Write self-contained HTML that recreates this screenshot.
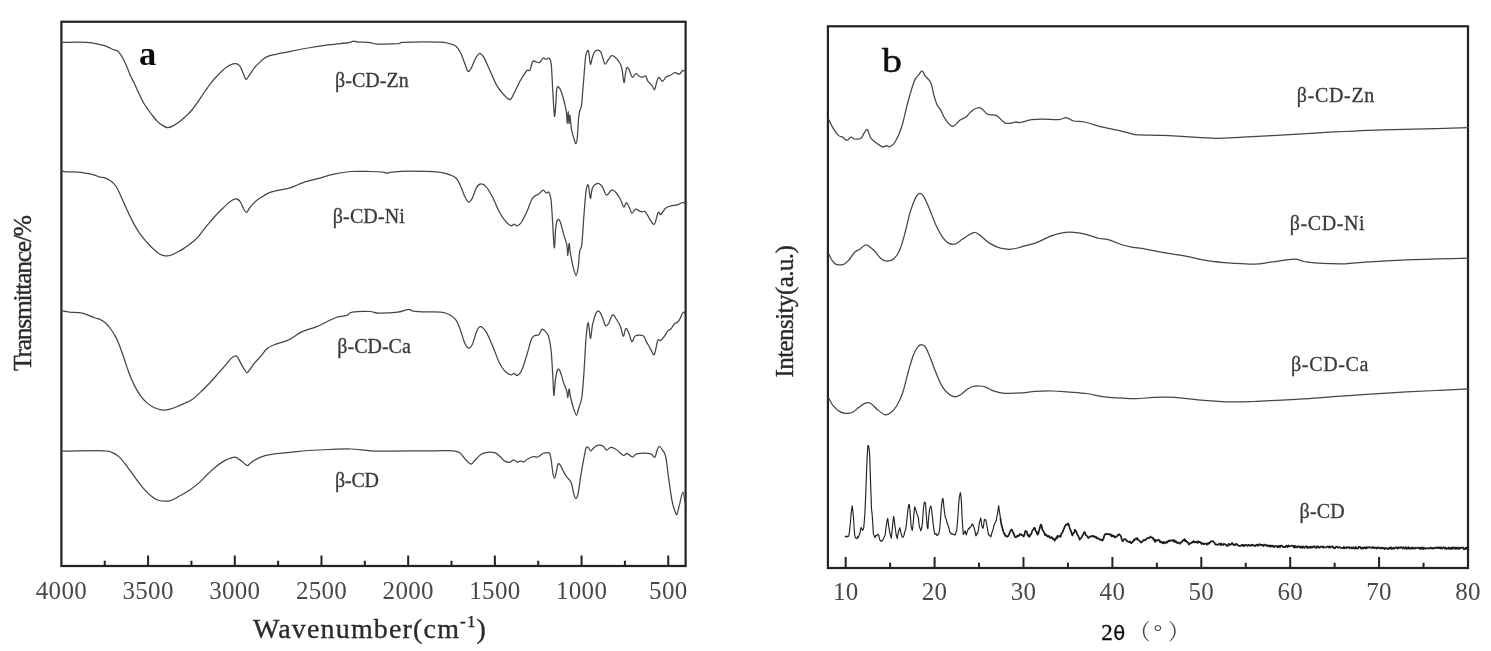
<!DOCTYPE html>
<html lang="en"><head><meta charset="utf-8"><title>FTIR and XRD</title>
<style>html,body{margin:0;padding:0;background:#fff}body{width:1491px;height:651px;overflow:hidden}svg{display:block}text{font-family:"Liberation Serif","Noto Serif CJK SC",serif;fill:#3a3a3a}.c{fill:none;stroke:#444;stroke-width:1.25;stroke-linejoin:round;stroke-linecap:round}.ax{fill:none;stroke:#222;stroke-width:2.2}.tk{stroke:#222;stroke-width:2}.tl{font-size:25px;text-anchor:middle;fill:#4a4a4a;letter-spacing:.3px}.lb{font-size:20px;stroke:#3a3a3a;stroke-width:.3}.b{fill:#2a2a2a;stroke:#2a2a2a;stroke-width:.35}</style></head><body>
<svg width="1491" height="651" viewBox="0 0 1491 651">
<rect width="1491" height="651" fill="#fff"/>
<defs><filter id="soft" filterUnits="userSpaceOnUse" x="0" y="0" width="1491" height="651"><feGaussianBlur stdDeviation="0.45"/></filter></defs><g filter="url(#soft)">
<rect class="ax" x="61.40" y="21.75" width="624.20" height="544.25"/>
<path class="tk" d="M104.75 566.00 v-5.3M148.09 566.00 v-10.5M191.44 566.00 v-5.3M234.79 566.00 v-10.5M278.14 566.00 v-5.3M321.48 566.00 v-10.5M364.83 566.00 v-5.3M408.18 566.00 v-10.5M451.52 566.00 v-5.3M494.87 566.00 v-10.5M538.22 566.00 v-5.3M581.57 566.00 v-10.5M624.91 566.00 v-5.3M668.26 566.00 v-10.5"/>
<text class="tl" x="61.4" y="598.6">4000</text>
<text class="tl" x="148.1" y="598.6">3500</text>
<text class="tl" x="234.8" y="598.6">3000</text>
<text class="tl" x="321.5" y="598.6">2500</text>
<text class="tl" x="408.2" y="598.6">2000</text>
<text class="tl" x="494.9" y="598.6">1500</text>
<text class="tl" x="581.6" y="598.6">1000</text>
<text class="tl" x="668.3" y="598.6">500</text>
<text class="b" x="252.9" y="637.5" font-size="28" textLength="233">Wavenumber(cm<tspan font-size="17" dy="-10.5">-1</tspan><tspan dy="10.5">)</tspan></text>
<text class="b" transform="translate(31 371) rotate(-90)" font-size="25.5" textLength="156">Transmittance/%</text>
<text x="138.9" y="65.3" font-size="34.5" font-weight="bold" style="fill:#111">a</text>
<path class="c" d="M61.8 42.4C65.9 42.4 80.2 42.0 86.6 42.4C92.9 42.8 96.7 44.0 100.0 44.7C103.3 45.3 104.3 45.5 106.5 46.3C108.6 47.1 111.0 48.7 112.9 49.5C114.8 50.3 116.4 50.2 117.7 51.1C119.1 52.1 119.9 53.5 121.0 55.2C122.0 56.8 123.1 58.7 124.2 60.8C125.3 63.0 126.3 65.5 127.4 68.1C128.5 70.6 129.5 73.6 130.6 76.1C131.8 78.7 133.0 80.6 134.4 83.4C135.7 86.2 137.2 89.8 138.7 93.1C140.2 96.3 141.9 99.9 143.5 102.7C145.2 105.6 146.8 107.7 148.4 110.0C150.0 112.3 151.6 114.4 153.2 116.5C154.8 118.5 156.5 120.6 158.1 122.1C159.7 123.6 161.3 124.7 162.9 125.6C164.5 126.6 166.1 127.7 167.7 127.7C169.4 127.8 170.7 127.1 172.6 126.1C174.5 125.2 176.9 123.7 179.0 122.1C181.2 120.5 183.3 118.5 185.5 116.5C187.6 114.4 189.8 112.6 191.9 110.0C194.1 107.4 196.2 104.2 198.4 101.1C200.5 98.0 202.7 94.5 204.8 91.5C207.0 88.4 209.1 85.3 211.3 82.6C213.4 79.9 215.6 77.6 217.7 75.3C219.9 73.0 222.0 70.6 224.2 68.9C226.3 67.1 228.8 65.7 230.6 64.8C232.5 64.0 234.0 63.6 235.5 63.7C237.0 63.8 238.3 64.2 239.5 65.6C240.7 67.0 241.7 69.8 242.7 72.1C243.8 74.4 244.9 78.8 246.0 79.4C247.0 79.9 247.7 77.3 249.2 75.3C250.7 73.3 253.0 69.5 254.8 67.3C256.6 65.1 258.7 63.4 260.0 62.1C261.3 60.8 261.7 60.3 262.9 59.4C264.1 58.4 265.1 57.4 267.2 56.6C269.4 55.7 272.6 55.1 275.8 54.4C279.0 53.7 281.2 53.3 286.6 52.3C291.9 51.2 300.9 49.2 308.1 48.0C315.2 46.7 322.8 45.6 329.6 44.7C336.4 43.8 345.0 43.2 348.9 42.6C352.9 42.0 351.8 41.2 353.2 41.1C354.7 41.0 354.7 41.7 357.5 41.9C360.3 42.2 366.8 42.2 370.0 42.6C373.2 42.9 371.8 43.9 376.5 44.1C381.1 44.3 393.7 43.9 398.0 43.7C402.3 43.4 398.0 42.6 402.3 42.4C409.1 42.1 430.9 41.9 438.8 42.2C446.7 42.4 446.7 43.0 449.6 43.7C452.4 44.3 454.2 44.8 456.0 46.2C457.8 47.7 458.9 49.5 460.3 52.3C461.8 55.1 463.4 59.9 464.6 63.0C465.9 66.2 466.8 70.3 467.8 71.2C468.9 72.1 469.8 70.5 471.1 68.4C472.3 66.3 473.9 61.2 475.4 58.7C476.8 56.2 478.2 53.5 479.7 53.3C481.1 53.2 482.2 54.6 484.0 57.6C485.8 60.7 488.3 67.0 490.4 71.6C492.6 76.3 494.7 81.8 496.9 85.6C499.0 89.4 501.2 91.9 503.3 94.2C505.5 96.5 508.0 99.7 509.8 99.6C511.6 99.4 512.3 96.3 514.1 93.1C515.9 89.9 518.4 84.0 520.5 80.2C522.7 76.5 525.4 72.2 527.0 70.5C528.6 68.9 529.1 71.8 530.0 70.3C530.9 68.8 531.6 62.9 532.7 61.5C533.7 60.1 535.0 61.7 536.2 61.9C537.4 62.0 538.5 63.0 539.7 62.4C540.9 61.7 542.2 58.5 543.3 58.0C544.3 57.5 544.9 59.3 545.9 59.4C546.9 59.4 548.2 57.5 549.1 58.3C550.0 59.1 550.6 59.2 551.2 64.2C551.8 69.1 552.2 80.5 552.6 88.0C553.1 95.5 553.5 104.5 553.9 109.2C554.2 113.9 554.4 117.4 554.7 116.3C555.1 115.1 555.6 106.8 556.0 102.1C556.3 97.4 556.3 90.4 556.9 88.0C557.4 85.6 558.3 86.8 559.2 87.7C560.0 88.5 560.9 90.7 561.8 93.3C562.7 95.9 563.7 99.9 564.5 103.0C565.2 106.1 565.9 108.5 566.4 111.9C566.9 115.2 567.0 123.4 567.3 123.3C567.6 123.3 567.9 111.3 568.2 111.3C568.5 111.3 568.8 122.7 569.0 123.3C569.3 124.0 569.5 114.4 569.9 115.4C570.3 116.4 570.8 125.5 571.5 129.5C572.2 133.5 573.4 136.9 574.2 139.2C574.9 141.6 575.4 144.0 575.9 143.7C576.5 143.4 576.9 141.7 577.3 137.5C577.8 133.2 578.2 122.5 578.6 118.0C579.0 113.6 579.3 113.2 579.8 111.0C580.3 108.8 581.1 108.6 581.6 104.8C582.1 101.0 582.5 93.7 583.0 88.0C583.5 82.3 584.0 75.6 584.4 70.3C584.9 65.0 585.2 59.4 585.7 56.2C586.2 53.0 586.9 51.6 587.4 50.9C587.9 50.2 588.2 49.6 588.7 51.8C589.2 54.0 589.8 63.1 590.4 64.2C591.0 65.2 591.5 60.0 592.2 58.0C592.9 55.9 593.5 53.1 594.5 51.8C595.5 50.5 597.0 50.0 598.0 50.0C599.1 50.0 599.9 50.5 600.7 51.8C601.5 53.1 602.1 55.9 602.8 58.0C603.5 60.0 604.3 63.7 605.1 64.2C605.9 64.6 606.7 62.0 607.7 60.6C608.8 59.2 610.2 56.6 611.3 55.8C612.3 55.1 612.9 55.6 613.9 56.2C615.0 56.8 616.4 58.4 617.5 59.7C618.5 61.1 619.7 62.4 620.5 64.2C621.3 65.9 621.6 67.2 622.2 70.3C622.8 73.4 623.5 82.1 624.0 82.7C624.5 83.3 624.9 76.4 625.4 73.9C625.9 71.4 626.3 68.6 626.8 67.7C627.3 66.8 628.0 67.7 628.6 68.6C629.2 69.5 629.7 71.5 630.4 73.0C631.0 74.5 631.5 77.3 632.5 77.4C633.4 77.5 634.8 73.7 636.0 73.5C637.2 73.4 638.4 75.9 639.5 76.5C640.7 77.1 642.0 77.1 643.1 77.0C644.1 77.0 644.9 75.3 645.7 76.0C646.5 76.7 647.0 79.7 648.0 81.3C649.1 82.9 650.8 83.9 651.9 85.4C653.0 86.8 653.8 90.1 654.6 89.8C655.3 89.5 655.6 85.6 656.3 83.6C657.0 81.5 657.6 77.8 658.6 77.4C659.7 77.0 661.3 81.3 662.5 81.3C663.7 81.2 664.6 78.1 666.0 77.0C667.5 76.0 669.9 75.5 671.3 74.8C672.8 74.0 673.6 72.5 674.9 72.5C676.2 72.4 678.0 74.6 679.3 74.2C680.6 73.9 681.8 70.6 682.8 70.3C683.9 70.0 685.0 72.1 685.5 72.5"/>
<path class="c" d="M61.8 170.9C62.5 171.0 63.4 171.7 66.1 171.9C68.8 172.2 73.5 171.7 78.0 172.2C82.4 172.6 89.3 173.9 93.0 174.7C96.7 175.6 98.0 176.6 100.0 177.1C102.0 177.6 103.2 177.4 104.8 177.9C106.5 178.4 108.1 179.2 109.7 180.3C111.3 181.4 113.2 182.9 114.5 184.4C115.9 185.8 116.7 187.2 117.7 189.2C118.8 191.2 119.8 193.8 121.0 196.5C122.2 199.1 123.7 202.4 125.0 205.3C126.3 208.3 127.6 211.1 129.0 214.2C130.5 217.3 132.3 220.9 133.9 223.9C135.5 226.8 137.1 229.5 138.7 231.9C140.3 234.4 141.9 236.4 143.5 238.4C145.2 240.4 146.8 242.3 148.4 244.0C150.0 245.8 151.6 247.4 153.2 248.9C154.8 250.3 156.5 251.8 158.1 252.9C159.7 254.0 161.3 254.8 162.9 255.3C164.5 255.8 166.1 255.9 167.7 255.8C169.4 255.7 170.7 255.3 172.6 254.5C174.5 253.8 176.9 252.5 179.0 251.3C181.2 250.1 183.3 248.7 185.5 247.3C187.6 245.8 190.1 243.9 191.9 242.4C193.8 240.9 194.9 240.4 196.8 238.4C198.7 236.4 201.1 233.0 203.2 230.3C205.4 227.6 207.5 224.8 209.7 222.3C211.8 219.7 214.0 217.3 216.1 215.0C218.3 212.7 220.4 210.6 222.6 208.5C224.7 206.5 227.2 204.0 229.0 202.4C230.9 200.9 232.5 199.9 233.9 199.4C235.2 198.8 236.0 198.8 237.1 199.2C238.2 199.6 239.2 200.2 240.3 201.8C241.4 203.3 242.5 206.7 243.5 208.5C244.6 210.3 245.5 212.6 246.5 212.6C247.4 212.6 247.9 210.2 249.2 208.5C250.5 206.9 252.2 204.7 254.0 202.9C255.8 201.2 257.4 199.8 260.0 198.1C262.6 196.3 266.4 193.9 269.4 192.6C272.3 191.3 274.4 191.3 278.0 190.4C281.5 189.6 286.6 189.0 290.9 187.6C295.2 186.3 299.1 183.8 303.8 182.3C308.4 180.7 313.8 179.7 318.8 178.4C323.8 177.0 328.5 175.2 333.9 174.1C339.2 172.9 345.1 171.9 351.1 171.5C357.1 171.1 364.7 171.4 370.0 171.5C375.3 171.6 380.0 171.9 382.9 172.2C385.8 172.4 385.8 173.2 387.2 173.2C388.6 173.2 387.9 172.5 391.5 172.2C395.1 171.8 400.8 171.1 408.7 171.1C416.6 171.1 432.0 171.5 438.8 172.2C445.6 172.8 446.7 173.8 449.6 174.7C452.4 175.7 454.2 176.2 456.0 178.0C457.8 179.7 458.9 182.4 460.3 185.5C461.8 188.5 463.3 193.5 464.6 196.2C466.0 199.0 467.2 201.7 468.5 202.0C469.7 202.4 470.8 200.8 472.2 198.4C473.5 196.0 475.0 190.1 476.5 187.6C477.9 185.2 479.1 183.9 480.8 183.8C482.4 183.6 484.2 184.3 486.1 186.6C488.1 188.8 490.4 193.2 492.6 197.3C494.7 201.4 497.1 207.5 499.0 211.3C501.0 215.1 502.4 217.5 504.4 219.9C506.4 222.3 509.2 225.0 510.9 225.7C512.5 226.4 513.0 224.2 514.1 224.2C515.2 224.2 516.1 226.3 517.3 225.9C518.6 225.6 520.0 224.5 521.6 222.0C523.2 219.6 525.4 214.9 527.0 211.3C528.6 207.7 530.0 203.0 531.3 200.5C532.5 198.0 533.3 197.3 534.5 196.2C535.8 195.2 537.4 195.1 538.8 194.1C540.3 193.1 541.9 190.4 543.1 190.2C544.4 190.0 545.4 192.7 546.3 193.0C547.3 193.4 548.1 191.1 548.9 192.4C549.7 193.6 550.4 195.1 551.1 200.5C551.7 206.0 552.3 217.4 552.8 225.3C553.3 233.2 553.8 247.1 554.3 247.8C554.8 248.6 555.1 234.2 555.6 229.6C556.1 224.9 556.7 221.1 557.5 219.9C558.3 218.6 559.3 219.7 560.3 222.0C561.3 224.4 562.5 230.1 563.5 233.9C564.6 237.6 566.1 241.0 566.8 244.6C567.5 248.2 567.5 255.6 567.8 255.4C568.2 255.2 568.7 243.9 569.1 243.5C569.6 243.2 569.7 249.3 570.4 253.2C571.1 257.2 572.3 263.5 573.2 267.2C574.2 270.9 575.2 275.4 576.0 275.4C576.8 275.4 577.6 271.3 578.2 267.2C578.8 263.2 579.1 254.8 579.7 251.1C580.3 247.3 581.1 250.7 581.8 244.6C582.5 238.5 583.3 223.5 584.0 214.5C584.7 205.6 585.4 195.8 586.1 190.9C586.8 185.9 587.6 183.8 588.3 185.1C589.0 186.3 589.7 198.0 590.4 198.4C591.1 198.8 591.3 190.1 592.6 187.6C593.8 185.1 596.3 183.5 598.0 183.3C599.6 183.2 600.8 184.6 602.3 186.6C603.7 188.5 604.9 194.6 606.6 195.2C608.2 195.7 610.3 190.1 611.9 189.8C613.5 189.4 614.8 191.4 616.2 193.0C617.7 194.6 619.3 197.1 620.5 199.5C621.8 201.8 622.8 206.5 623.8 207.0C624.7 207.5 625.4 202.7 626.3 202.7C627.2 202.7 628.2 205.3 629.1 207.0C630.1 208.7 630.9 212.7 631.9 213.0C633.0 213.4 634.1 209.4 635.6 209.1C637.1 208.9 639.4 211.3 641.0 211.7C642.6 212.2 643.8 210.5 645.3 211.7C646.7 212.9 648.1 216.7 649.6 218.8C651.1 220.9 652.9 225.3 654.3 224.2C655.7 223.1 657.1 214.0 658.2 212.4C659.2 210.8 659.5 215.2 660.8 214.5C662.0 213.8 664.0 209.5 665.7 208.1C667.4 206.6 669.1 206.5 671.1 205.9C673.0 205.4 675.6 205.4 677.5 204.8C679.5 204.2 681.6 202.4 682.9 202.3C684.2 202.1 684.7 203.5 685.1 203.8"/>
<path class="c" d="M61.8 310.9C63.1 311.1 65.9 311.8 69.4 312.2C72.8 312.5 78.0 312.3 82.3 313.2C86.6 314.2 92.2 316.9 95.2 318.0C98.1 319.0 98.3 318.5 100.0 319.4C101.7 320.2 103.7 321.4 105.5 323.0C107.4 324.7 109.4 327.2 111.1 329.5C112.7 331.8 114.3 334.3 115.7 336.9C117.1 339.5 118.1 342.1 119.4 345.2C120.6 348.2 121.8 351.8 123.0 355.3C124.3 358.8 125.5 362.8 126.7 366.4C128.0 369.9 129.0 373.1 130.4 376.5C131.8 379.9 133.3 383.4 135.0 386.6C136.7 389.9 138.6 393.1 140.6 395.9C142.5 398.6 144.9 401.0 147.0 402.9C149.2 404.8 151.5 406.2 153.5 407.3C155.5 408.4 157.1 408.8 159.0 409.3C160.8 409.8 162.7 410.1 164.5 410.0C166.4 410.0 167.9 409.7 170.0 409.1C172.2 408.5 175.0 407.5 177.4 406.5C179.9 405.6 182.3 404.4 184.8 403.2C187.3 402.1 189.7 401.2 192.2 399.5C194.6 397.8 197.1 395.4 199.5 393.1C202.0 390.8 205.1 387.6 206.9 385.7C208.8 383.9 208.8 384.0 210.6 382.0C212.4 380.0 215.5 376.5 218.0 373.7C220.4 371.0 223.2 368.0 225.3 365.4C227.5 362.9 229.3 360.2 230.9 358.6C232.4 357.1 233.5 356.5 234.6 356.2C235.6 355.9 236.3 355.5 237.3 356.8C238.4 358.0 239.8 361.4 241.0 363.6C242.2 365.8 243.7 368.5 244.7 370.0C245.7 371.6 246.3 372.9 247.1 372.8C247.9 372.7 248.4 371.4 249.7 369.7C251.0 368.0 253.1 364.8 254.8 362.7C256.6 360.6 257.9 359.5 260.0 357.1C262.1 354.8 264.6 350.7 267.2 348.5C269.8 346.3 272.2 345.6 275.8 344.2C279.4 342.8 284.4 341.9 288.7 339.9C293.0 337.8 297.0 334.2 301.6 331.9C306.3 329.7 310.9 329.0 316.7 326.6C322.4 324.2 331.0 319.4 336.0 317.5C341.0 315.7 344.1 316.3 346.8 315.4C349.5 314.5 348.3 312.8 352.2 312.2C356.0 311.5 365.6 311.3 370.0 311.5C374.4 311.7 373.9 313.1 378.6 313.2C383.3 313.3 392.9 312.8 398.0 312.2C403.0 311.5 406.2 309.5 408.7 309.4C411.2 309.2 410.1 310.6 413.0 311.1C415.9 311.5 421.3 311.8 425.9 311.9C430.6 312.1 437.0 311.7 441.0 312.2C444.9 312.6 447.1 313.4 449.6 314.7C452.1 316.1 454.2 317.6 456.0 320.1C457.8 322.6 458.9 326.0 460.3 329.8C461.8 333.5 463.3 339.6 464.6 342.7C466.0 345.7 467.2 347.7 468.5 348.1C469.7 348.4 470.8 347.5 472.2 344.8C473.5 342.2 475.1 335.0 476.5 331.9C477.8 328.9 478.7 326.6 480.3 326.6C481.9 326.6 484.1 328.7 486.1 331.9C488.2 335.2 490.4 340.9 492.6 345.9C494.7 350.9 497.1 357.9 499.0 362.0C501.0 366.2 502.4 368.5 504.4 370.6C506.4 372.8 509.2 374.5 510.9 374.9C512.5 375.4 513.0 373.3 514.1 373.4C515.2 373.5 516.1 376.1 517.3 375.6C518.6 375.1 520.0 374.2 521.6 370.6C523.2 367.1 525.4 359.7 527.0 354.5C528.6 349.3 530.0 342.6 531.3 339.5C532.5 336.3 533.3 336.4 534.5 335.6C535.8 334.8 537.6 335.8 538.8 334.7C540.1 333.7 541.0 329.7 542.0 329.1C543.1 328.6 544.2 330.1 545.3 331.3C546.3 332.5 547.5 333.1 548.5 336.2C549.5 339.4 550.4 343.6 551.1 350.2C551.8 356.8 552.3 368.5 552.8 376.0C553.3 383.5 553.4 394.7 553.9 395.4C554.3 396.1 554.8 384.6 555.4 380.3C556.0 376.0 556.7 371.0 557.5 369.6C558.4 368.1 559.3 369.6 560.3 371.7C561.3 373.9 562.5 379.2 563.5 382.5C564.6 385.7 566.1 388.6 566.8 391.1C567.5 393.6 567.5 397.9 567.8 397.5C568.2 397.2 568.7 389.1 569.1 388.9C569.6 388.7 569.7 393.4 570.4 396.5C571.1 399.5 572.2 404.1 573.2 407.2C574.2 410.4 575.5 415.4 576.5 415.4C577.4 415.4 578.1 410.2 579.0 407.2C579.9 404.2 581.0 403.4 581.8 397.5C582.7 391.6 583.3 381.8 584.0 371.7C584.7 361.7 585.4 345.5 586.1 337.3C586.8 329.1 587.6 322.5 588.3 322.7C589.0 322.9 589.7 338.1 590.4 338.4C591.1 338.7 591.7 328.5 592.6 324.4C593.5 320.3 594.8 315.9 595.8 313.7C596.8 311.4 597.6 310.5 598.6 310.9C599.6 311.2 600.7 313.4 601.8 315.8C603.0 318.2 604.3 324.2 605.5 325.5C606.6 326.7 607.5 325.1 608.7 323.3C609.9 321.5 611.3 315.4 612.6 314.7C613.8 314.0 614.9 317.1 616.2 319.0C617.6 321.0 619.4 323.7 620.5 326.6C621.7 329.4 622.4 335.9 623.3 336.2C624.2 336.5 624.9 328.6 625.9 328.3C626.9 327.9 628.1 331.9 629.1 334.1C630.1 336.3 630.9 341.3 631.9 341.6C633.0 341.9 633.7 336.8 635.6 335.8C637.5 334.8 641.3 334.8 643.1 335.8C644.9 336.8 645.1 339.4 646.3 341.6C647.6 343.8 649.3 347.0 650.6 349.1C652.0 351.3 653.1 355.9 654.3 354.5C655.5 353.1 656.7 342.9 657.7 340.5C658.8 338.2 659.5 341.4 660.8 340.5C662.0 339.6 663.9 336.8 665.1 335.2C666.2 333.5 666.8 331.9 667.8 330.9C668.9 329.8 670.0 329.9 671.1 328.7C672.2 327.6 673.0 325.2 674.3 324.0C675.6 322.7 677.2 323.1 678.6 321.2C680.0 319.3 681.8 313.8 682.9 312.6C684.0 311.3 684.7 313.5 685.1 313.7"/>
<path class="c" d="M61.8 451.2C68.8 451.1 95.3 450.5 103.8 450.8C112.2 451.0 109.9 451.7 112.4 452.7C114.9 453.7 116.7 454.7 118.8 456.6C121.0 458.5 122.8 460.9 125.3 464.1C127.8 467.3 131.0 472.0 133.9 475.9C136.7 479.8 139.6 484.0 142.5 487.3C145.3 490.6 148.6 493.8 151.1 495.9C153.6 498.0 155.4 499.1 157.5 500.0C159.7 500.9 161.8 501.0 164.0 501.1C166.1 501.2 167.9 501.4 170.4 500.6C172.9 499.9 175.8 498.1 179.0 496.3C182.3 494.6 186.6 492.0 189.8 489.9C193.0 487.7 195.5 485.9 198.4 483.4C201.3 480.9 204.1 477.6 207.0 474.8C209.9 472.1 212.7 469.2 215.6 466.9C218.5 464.6 221.7 462.3 224.2 460.9C226.7 459.4 228.9 458.7 230.6 458.1C232.4 457.5 233.5 457.0 234.9 457.2C236.4 457.4 237.6 458.3 239.2 459.4C240.9 460.4 243.2 462.6 244.6 463.7C246.1 464.7 246.8 465.8 247.8 465.6C248.9 465.4 249.6 463.4 251.1 462.4C252.5 461.3 254.1 460.3 256.5 459.1C258.8 458.0 262.2 456.6 265.1 455.7C267.9 454.8 269.4 454.6 273.7 454.0C278.0 453.4 285.1 452.8 290.9 452.3C296.6 451.7 301.6 451.0 308.1 450.5C314.5 450.1 322.4 449.7 329.6 449.5C336.7 449.2 344.3 448.8 351.1 449.0C357.8 449.2 363.3 450.4 370.0 450.8C376.7 451.1 380.8 451.0 391.5 451.0C402.3 451.0 424.1 450.8 434.5 450.8C444.9 450.7 449.6 450.3 453.9 450.8C458.2 451.2 458.4 451.8 460.3 453.3C462.3 454.8 463.9 458.0 465.7 459.8C467.5 461.6 469.5 464.1 471.1 464.1C472.7 464.1 473.8 461.4 475.4 459.8C477.0 458.2 478.8 455.7 480.8 454.4C482.7 453.2 484.9 452.5 487.2 452.3C489.5 452.0 492.6 452.0 494.7 452.7C496.9 453.4 498.5 455.2 500.1 456.6C501.7 457.9 502.8 459.9 504.4 460.9C506.0 461.8 508.2 462.5 509.8 462.4C511.3 462.2 512.4 459.8 513.7 459.8C514.9 459.8 516.2 462.2 517.3 462.4C518.5 462.5 519.5 460.9 520.5 460.9C521.6 460.8 522.5 462.3 523.8 461.9C525.0 461.6 526.5 459.6 528.1 458.7C529.7 457.8 531.8 456.8 533.4 456.6C535.1 456.3 536.3 457.4 537.7 457.0C539.2 456.6 540.8 454.7 542.0 454.0C543.3 453.3 544.0 453.0 545.3 452.9C546.5 452.8 548.6 452.0 549.6 453.3C550.6 454.7 550.8 457.6 551.3 460.9C551.8 464.1 552.3 469.8 552.8 472.7C553.3 475.6 553.9 478.1 554.5 478.1C555.1 478.1 555.7 475.0 556.2 472.7C556.8 470.4 557.3 465.3 558.0 464.1C558.6 462.8 559.4 463.9 560.3 465.2C561.3 466.4 562.5 469.6 563.5 471.6C564.6 473.6 565.5 475.2 566.8 477.0C568.0 478.8 569.9 479.5 571.1 482.4C572.3 485.2 573.0 491.5 573.9 494.2C574.7 496.9 575.3 498.7 576.0 498.5C576.7 498.3 577.4 496.9 578.2 493.1C579.0 489.4 579.8 481.8 580.8 475.9C581.7 470.0 583.1 462.3 584.0 457.6C584.9 453.0 585.4 449.6 586.1 448.0C586.8 446.3 587.5 447.1 588.3 447.5C589.1 448.0 589.8 450.9 590.9 450.8C591.9 450.6 593.4 447.8 594.7 446.9C596.1 445.9 597.6 445.3 599.0 445.2C600.5 445.1 602.1 445.4 603.3 446.2C604.6 447.1 605.3 449.9 606.6 450.1C607.8 450.3 609.2 447.4 610.9 447.3C612.5 447.2 614.8 448.6 616.2 449.5C617.7 450.3 618.2 451.3 619.5 452.3C620.7 453.3 622.5 455.3 623.8 455.5C625.0 455.7 625.6 453.1 627.0 453.3C628.4 453.6 630.8 456.9 632.4 457.0C634.0 457.1 634.2 454.4 636.7 453.8C639.2 453.2 644.9 453.2 647.4 453.3C649.9 453.4 650.5 453.8 651.7 454.4C653.0 455.1 654.0 458.1 654.9 457.2C655.9 456.3 656.7 450.8 657.5 449.0C658.3 447.2 658.9 446.3 659.7 446.5C660.5 446.6 661.5 448.4 662.5 450.1C663.5 451.8 664.6 451.5 665.7 456.6C666.8 461.6 667.8 472.7 668.9 480.2C670.0 487.7 671.1 496.3 672.2 501.7C673.2 507.1 674.6 510.4 675.4 512.5C676.2 514.5 676.4 515.4 677.1 514.0C677.8 512.5 678.7 507.5 679.7 503.9C680.6 500.2 682.0 492.2 682.9 492.0C683.8 491.9 684.7 501.0 685.1 502.8"/>
<text class="lb" x="335" y="87.2" textLength="73.7">β-CD-Zn</text>
<text class="lb" x="332.8" y="223" textLength="72">β-CD-Ni</text>
<text class="lb" x="337.3" y="353.4" textLength="73.5">β-CD-Ca</text>
<text class="lb" x="335" y="486.7" textLength="44">β-CD</text>
<rect class="ax" x="827.90" y="26.30" width="640.10" height="541.70"/>
<path class="tk" d="M845.68 568.00 v-10.9M890.13 568.00 v-5.3M934.58 568.00 v-10.9M979.03 568.00 v-5.3M1023.49 568.00 v-10.9M1067.94 568.00 v-5.3M1112.39 568.00 v-10.9M1156.84 568.00 v-5.3M1201.29 568.00 v-10.9M1245.74 568.00 v-5.3M1290.19 568.00 v-10.9M1334.65 568.00 v-5.3M1379.10 568.00 v-10.9M1423.55 568.00 v-5.3"/>
<text class="tl" x="845.7" y="600.2">10</text>
<text class="tl" x="934.6" y="600.2">20</text>
<text class="tl" x="1023.5" y="600.2">30</text>
<text class="tl" x="1112.4" y="600.2">40</text>
<text class="tl" x="1201.3" y="600.2">50</text>
<text class="tl" x="1290.2" y="600.2">60</text>
<text class="tl" x="1379.1" y="600.2">70</text>
<text class="tl" x="1468.0" y="600.2">80</text>
<text x="1101.3" y="639.6" font-size="23" style="fill:#111;stroke:#111;stroke-width:.35">2<tspan font-family="DejaVu Sans,sans-serif" font-size="19.5" dx="0.5">θ</tspan></text>
<text y="639" font-size="22" font-family="'Liberation Serif','Noto Serif CJK SC',serif" x="1128.5 1153.5 1168" style="fill:#4a4a4a">（°）</text>
<text class="b" transform="translate(793 377.5) rotate(-90)" font-size="25" textLength="132.4">Intensity(a.u.)</text>
<text transform="translate(882.1 71.5) scale(1.16 1)" font-size="34.5" style="fill:#111;stroke:#111;stroke-width:.45">b</text>
<path class="c" d="M828.6 119.2C829.3 120.7 831.3 125.2 832.9 127.8C834.5 130.5 836.7 133.8 838.3 135.4C839.9 136.9 841.1 136.3 842.6 137.1C844.0 137.9 845.4 140.3 846.9 140.3C848.3 140.3 849.9 137.3 851.2 137.1C852.4 136.9 852.8 138.9 854.4 139.0C856.0 139.2 859.2 139.1 860.9 138.2C862.5 137.2 863.0 134.7 864.1 133.2C865.2 131.8 866.2 128.9 867.3 129.6C868.4 130.3 869.3 135.5 870.5 137.5C871.8 139.6 872.9 140.3 874.8 141.8C876.8 143.4 880.4 146.2 882.4 146.8C884.3 147.4 885.4 145.5 886.7 145.5C887.9 145.5 888.5 147.4 889.9 146.8C891.3 146.2 893.3 145.2 895.3 141.8C897.2 138.5 899.6 133.6 901.7 126.8C903.9 120.0 906.0 108.7 908.2 101.0C910.3 93.3 912.8 84.9 914.6 80.5C916.4 76.2 917.7 76.3 918.9 74.7C920.2 73.1 921.1 70.6 922.2 70.9C923.2 71.1 923.9 74.3 925.4 76.2C926.8 78.2 929.3 79.5 930.8 82.7C932.2 85.9 932.9 91.8 934.0 95.6C935.1 99.4 936.1 102.9 937.2 105.3C938.3 107.6 939.2 107.4 940.4 109.6C941.7 111.7 942.8 115.4 944.7 118.2C946.7 121.0 949.7 126.0 952.3 126.3C954.8 126.7 957.5 121.9 959.8 120.3C962.1 118.7 964.1 118.4 966.2 116.7C968.4 115.0 970.4 111.7 972.7 110.2C975.0 108.7 977.7 107.2 980.2 107.8C982.7 108.5 985.1 113.0 987.7 114.3C990.4 115.6 993.5 113.9 996.3 115.4C999.2 116.8 1002.3 121.6 1004.9 122.9C1007.6 124.2 1010.7 123.1 1012.5 122.9C1014.3 122.7 1014.4 121.9 1015.7 121.8C1017.0 121.8 1017.3 123.0 1020.0 122.7C1022.7 122.3 1027.9 120.3 1031.8 119.7C1035.8 119.1 1039.2 119.2 1043.7 119.2C1048.1 119.2 1054.9 119.9 1058.7 119.7C1062.5 119.4 1063.7 117.5 1066.2 117.7C1068.7 118.0 1070.7 120.3 1073.8 121.0C1076.8 121.7 1080.2 121.1 1084.5 122.0C1088.8 122.9 1093.5 124.8 1099.6 126.3C1105.7 127.8 1115.3 129.7 1121.1 131.1C1126.8 132.4 1130.8 133.7 1134.0 134.3C1137.1 134.9 1135.2 134.8 1140.0 134.9C1144.8 135.1 1155.2 135.1 1162.8 135.4C1170.4 135.7 1176.9 136.2 1185.6 136.7C1194.4 137.2 1205.8 138.2 1215.3 138.3C1224.8 138.4 1232.4 137.7 1242.6 137.2C1252.9 136.7 1263.5 136.1 1276.8 135.4C1290.1 134.6 1307.2 133.5 1322.4 132.6C1337.6 131.8 1352.8 130.9 1368.1 130.3C1383.3 129.8 1396.9 129.7 1413.7 129.2C1430.4 128.7 1459.3 127.9 1468.4 127.6"/>
<path class="c" d="M828.6 253.5C829.1 254.6 830.6 258.2 831.8 260.0C833.1 261.8 834.2 263.6 836.1 264.3C838.1 265.0 841.5 265.0 843.7 264.3C845.8 263.6 847.2 262.0 849.0 260.0C850.8 258.0 852.6 254.3 854.4 252.5C856.2 250.7 857.8 250.5 859.8 249.2C861.8 248.0 863.9 244.8 866.2 244.9C868.6 245.1 871.3 248.0 873.8 250.3C876.3 252.7 879.0 257.1 881.3 258.9C883.6 260.7 885.6 261.1 887.7 261.1C889.9 261.0 892.2 260.3 894.2 258.5C896.2 256.7 897.8 254.6 899.6 250.3C901.4 246.1 903.2 239.6 904.9 233.1C906.7 226.7 908.5 217.5 910.3 211.6C912.1 205.7 914.1 200.7 915.7 197.6C917.3 194.6 918.6 193.3 920.0 193.3C921.4 193.3 922.7 194.9 924.3 197.6C925.9 200.3 927.7 204.8 929.7 209.5C931.6 214.1 934.0 220.9 936.1 225.6C938.3 230.3 940.4 234.4 942.6 237.4C944.7 240.4 946.9 242.4 949.0 243.4C951.2 244.5 953.3 244.5 955.5 243.9C957.6 243.2 959.8 241.0 961.9 239.6C964.1 238.1 966.2 236.5 968.4 235.3C970.6 234.1 973.1 232.3 975.3 232.5C977.4 232.7 978.9 234.5 981.3 236.3C983.7 238.2 986.7 241.5 989.9 243.4C993.1 245.4 997.1 247.2 1000.6 248.2C1004.2 249.1 1007.8 249.5 1011.4 249.2C1015.0 249.0 1017.8 247.8 1022.2 246.7C1026.5 245.5 1032.5 244.1 1037.2 242.4C1041.9 240.6 1046.2 237.9 1050.1 236.3C1054.1 234.8 1057.6 233.8 1060.9 233.1C1064.1 232.4 1066.2 232.0 1069.5 232.0C1072.7 232.0 1076.6 232.5 1080.2 233.1C1083.8 233.8 1087.7 235.0 1091.0 235.9C1094.2 236.8 1096.7 237.9 1099.6 238.5C1102.4 239.1 1104.6 238.6 1108.2 239.6C1111.8 240.6 1117.1 243.3 1121.1 244.5C1125.0 245.8 1128.7 246.5 1131.8 247.1C1135.0 247.7 1134.8 247.3 1140.0 248.2C1145.2 249.0 1155.2 251.0 1162.8 252.4C1170.4 253.7 1178.0 254.8 1185.6 256.2C1193.2 257.6 1200.8 259.7 1208.4 260.8C1216.0 261.9 1223.6 262.5 1231.2 263.1C1238.8 263.6 1247.2 264.4 1254.0 264.2C1260.9 264.0 1265.6 262.8 1272.3 261.9C1278.9 261.1 1288.6 259.3 1293.9 259.2C1299.3 259.1 1300.2 260.8 1304.2 261.5C1308.2 262.1 1311.0 262.7 1317.9 263.1C1324.7 263.5 1336.9 264.0 1345.2 263.8C1353.6 263.6 1356.6 262.6 1368.1 261.9C1379.5 261.3 1396.9 260.3 1413.7 259.7C1430.4 259.0 1459.3 258.3 1468.4 258.1"/>
<path class="c" d="M828.6 397.8C829.3 399.1 831.1 403.1 832.9 405.4C834.7 407.6 837.2 410.1 839.4 411.4C841.5 412.7 843.7 413.2 845.8 413.3C848.0 413.5 850.1 413.4 852.3 412.5C854.4 411.5 856.6 409.1 858.7 407.5C860.9 406.0 863.2 403.9 865.2 403.2C867.1 402.5 868.6 402.2 870.5 403.2C872.5 404.2 874.7 407.3 877.0 409.2C879.3 411.1 882.4 413.9 884.5 414.6C886.7 415.3 887.9 414.7 889.9 413.3C891.9 412.0 894.2 409.9 896.3 406.5C898.5 403.0 900.8 398.2 902.8 392.5C904.8 386.7 906.4 378.3 908.2 372.0C910.0 365.8 911.9 359.0 913.5 354.8C915.2 350.6 916.5 348.6 917.8 346.9C919.2 345.2 920.2 344.6 921.5 344.7C922.8 344.9 924.3 345.3 925.8 347.7C927.3 350.1 929.0 354.9 930.8 359.1C932.5 363.4 934.2 368.5 936.1 373.1C938.1 377.8 940.4 383.6 942.6 387.1C944.7 390.6 946.9 392.6 949.0 394.2C951.2 395.8 953.5 396.7 955.5 396.8C957.5 396.8 958.9 395.9 960.9 394.6C962.8 393.4 965.3 390.6 967.3 389.2C969.3 387.9 970.7 387.0 972.7 386.5C974.7 385.9 977.0 385.9 979.1 386.0C981.3 386.1 983.4 386.4 985.6 387.1C987.7 387.8 989.2 389.3 992.0 390.3C994.9 391.3 997.8 392.7 1002.8 393.1C1007.8 393.5 1016.8 393.2 1022.2 392.9C1027.5 392.6 1030.0 391.7 1035.1 391.4C1040.1 391.1 1046.9 390.9 1052.3 391.0C1057.6 391.0 1061.6 391.4 1067.3 391.8C1073.0 392.3 1080.6 392.7 1086.7 393.5C1092.8 394.4 1097.4 396.0 1103.9 396.8C1110.3 397.6 1119.4 398.0 1125.4 398.3C1131.4 398.6 1135.3 398.6 1140.0 398.5C1144.7 398.3 1148.0 397.6 1153.7 397.4C1159.4 397.2 1165.8 396.9 1174.2 397.4C1182.6 397.9 1194.4 399.6 1203.9 400.3C1213.4 401.1 1222.9 401.7 1231.2 401.9C1239.6 402.1 1242.6 401.9 1254.0 401.5C1265.4 401.0 1284.4 400.2 1299.6 399.2C1314.8 398.3 1330.0 396.8 1345.2 395.8C1360.4 394.7 1375.7 393.7 1390.9 392.8C1406.1 391.9 1423.5 391.2 1436.5 390.5C1449.4 389.9 1463.1 389.2 1468.4 388.9"/>
<path class="c" style="stroke-width:1.15;stroke:#222" d="M845.1 536.5L845.7 536.2L846.3 537.0L846.9 536.0L847.5 536.8L848.1 536.5L848.7 536.0L849.3 533.0L849.9 527.7L850.5 521.8L851.1 513.6L851.7 509.2L852.3 505.9L852.9 512.1L853.5 517.2L854.1 527.4L854.7 535.2L855.3 537.3L855.9 538.1L856.5 538.2L857.1 538.7L857.7 536.7L858.3 537.5L858.9 535.6L859.5 534.5L860.1 532.3L860.7 528.7L861.3 527.5L861.9 528.9L862.5 530.5L863.1 529.5L863.7 527.9L864.3 521.1L864.9 513.0L865.5 499.9L866.1 484.7L866.7 467.5L867.3 454.4L867.9 445.6L868.5 445.5L869.1 448.7L869.7 455.6L870.3 474.4L870.9 492.3L871.5 508.6L872.1 514.0L872.7 521.9L873.3 533.3L873.9 535.2L874.5 536.6L875.1 537.6L875.7 535.5L876.3 535.5L876.9 535.7L877.5 534.3L878.1 534.6L878.7 535.1L879.3 538.1L879.9 540.2L880.5 540.7L881.1 541.4L881.7 540.6L882.3 540.8L882.9 539.8L883.5 538.8L884.1 537.2L884.7 536.0L885.3 534.3L885.9 528.7L886.5 524.3L887.1 520.1L887.7 518.4L888.3 522.6L888.9 527.5L889.5 531.1L890.1 534.1L890.7 536.4L891.3 538.3L891.9 532.1L892.5 526.8L893.1 520.3L893.7 516.3L894.3 520.2L894.9 525.7L895.5 529.5L896.1 534.5L896.7 536.6L897.3 538.7L897.9 534.3L898.5 532.0L899.1 529.6L899.7 527.8L900.3 529.6L900.9 533.0L901.5 534.4L902.1 536.9L902.7 537.4L903.3 536.9L903.9 535.7L904.5 532.7L905.1 530.9L905.7 529.2L906.3 524.9L906.9 519.3L907.5 513.9L908.1 508.4L908.7 504.9L909.3 504.5L909.9 509.8L910.5 517.2L911.1 526.1L911.7 528.3L912.3 530.5L912.9 525.9L913.5 520.0L914.1 511.6L914.7 506.9L915.3 508.2L915.9 510.2L916.5 512.7L917.1 514.4L917.7 516.1L918.3 517.4L918.9 523.3L919.5 526.8L920.1 528.7L920.7 530.8L921.3 529.3L921.9 527.0L922.5 522.1L923.1 513.0L923.7 506.3L924.3 502.0L924.9 502.5L925.5 502.8L926.1 512.7L926.7 520.3L927.3 527.2L927.9 528.8L928.5 519.3L929.1 513.6L929.7 508.2L930.3 507.2L930.9 506.1L931.5 509.4L932.1 514.2L932.7 519.5L933.3 525.2L933.9 529.5L934.5 533.2L935.1 534.5L935.7 533.6L936.3 533.7L936.9 535.6L937.5 535.2L938.1 534.8L938.7 533.9L939.3 531.2L939.9 527.3L940.5 519.1L941.1 511.3L941.7 504.5L942.3 499.7L942.9 498.3L943.5 502.7L944.1 508.8L944.7 513.5L945.3 517.5L945.9 518.6L946.5 520.3L947.1 522.8L947.7 524.6L948.3 525.9L948.9 528.1L949.5 530.6L950.1 532.8L950.7 532.8L951.3 533.9L951.9 534.2L952.5 533.8L953.1 534.0L953.7 534.5L954.3 534.6L954.9 535.1L955.5 534.2L956.1 532.0L956.7 530.7L957.3 523.9L957.9 517.0L958.5 507.0L959.1 498.6L959.7 495.6L960.3 492.6L960.9 495.5L961.5 503.8L962.1 517.5L962.7 526.8L963.3 534.4L963.9 533.4L964.5 532.3L965.1 530.7L965.7 533.4L966.3 534.9L966.9 532.9L967.5 530.9L968.1 529.5L968.7 528.4L969.3 528.8L969.9 527.2L970.5 527.1L971.1 526.5L971.7 524.7L972.3 524.0L972.9 524.5L973.5 526.3L974.1 527.6L974.7 530.1L975.3 532.7L975.9 536.0L976.5 535.0L977.1 533.1L977.7 533.4L978.3 530.5L978.9 526.2L979.5 522.3L980.1 520.1L980.7 518.0L981.3 521.2L981.9 526.2L982.5 527.7L983.1 528.2L983.7 524.6L984.3 519.7L984.9 520.0L985.5 519.5L986.1 521.1L986.7 524.1L987.3 527.8L987.9 531.4L988.5 534.9L989.1 534.9L989.7 535.8L990.3 535.9L990.9 537.0L991.5 534.1L992.1 532.3L992.7 530.5L993.3 528.6L993.9 525.4L994.5 524.1L995.1 522.7L995.7 522.1L996.3 520.3L996.9 516.4L997.5 514.1L998.1 509.8L998.7 505.7L999.3 510.5L999.9 514.2L1000.5 518.7"/>
<path class="c" style="stroke-width:1.7;stroke:#1a1a1a" d="M1000.5 518.7L1001.1 522.9L1001.7 525.9L1002.3 527.6L1002.9 530.1L1003.5 532.1L1004.1 533.8L1004.7 533.8L1005.3 535.9L1005.9 535.9L1006.5 536.0L1007.1 536.9L1007.7 536.4L1008.3 535.8L1008.9 534.6L1009.5 533.4L1010.1 531.3L1010.7 530.7L1011.3 529.6L1011.9 529.6L1012.5 531.4L1013.1 532.4L1013.7 534.0L1014.3 535.0L1014.9 536.9L1015.5 537.2L1016.1 537.2L1016.7 537.0L1017.3 535.5L1017.9 535.7L1018.5 536.1L1019.1 535.6L1019.7 534.0L1020.3 534.0L1020.9 534.9L1021.5 534.5L1022.1 535.1L1022.7 535.1L1023.3 536.5L1023.9 536.2L1024.5 534.7L1025.1 531.6L1025.7 530.9L1026.3 531.3L1026.9 531.8L1027.5 534.7L1028.1 535.8L1028.7 535.0L1029.3 536.9L1029.9 535.6L1030.5 534.6L1031.1 534.3L1031.7 532.9L1032.3 530.6L1032.9 530.1L1033.5 529.2L1034.1 527.9L1034.7 527.9L1035.3 529.5L1035.9 531.5L1036.5 531.5L1037.1 533.7L1037.7 534.7L1038.3 533.5L1038.9 531.3L1039.5 529.2L1040.1 526.7L1040.7 524.7L1041.3 525.0L1041.9 527.0L1042.5 530.1L1043.1 530.6L1043.7 532.0L1044.3 532.7L1044.9 535.1L1045.5 534.4L1046.1 534.5L1046.7 535.3L1047.3 536.5L1047.9 536.6L1048.5 535.9L1049.1 536.0L1049.7 537.7L1050.3 537.4L1050.9 537.9L1051.5 537.1L1052.1 537.4L1052.7 538.9L1053.3 538.9L1053.9 538.7L1054.5 540.8L1055.1 539.8L1055.7 539.4L1056.3 537.4L1056.9 538.1L1057.5 535.9L1058.1 537.0L1058.7 536.2L1059.3 535.9L1059.9 536.2L1060.5 536.8L1061.1 534.5L1061.7 533.2L1062.3 532.8L1062.9 531.1L1063.5 529.7L1064.1 528.4L1064.7 526.8L1065.3 525.7L1065.9 524.8L1066.5 524.4L1067.1 524.8L1067.7 523.5L1068.3 523.6L1068.9 525.1L1069.5 527.5L1070.1 529.0L1070.7 530.8L1071.3 531.8L1071.9 534.5L1072.5 535.5L1073.1 533.7L1073.7 532.9L1074.3 532.4L1074.9 529.7L1075.5 530.6L1076.1 531.3L1076.7 532.7L1077.3 534.7L1077.9 535.1L1078.5 536.5L1079.1 538.0L1079.7 539.6L1080.3 538.3L1080.9 538.4L1081.5 537.4L1082.1 536.4L1082.7 535.2L1083.3 534.2L1083.9 532.8L1084.5 532.0L1085.1 532.9L1085.7 535.1L1086.3 535.3L1086.9 536.1L1087.5 536.5L1088.1 537.8L1088.7 537.8L1089.3 537.3L1089.9 536.5L1090.5 536.4L1091.1 536.3L1091.7 536.5L1092.3 535.9L1092.9 536.3L1093.5 535.8L1094.1 537.0L1094.7 536.9L1095.3 536.7L1095.9 536.6L1096.5 538.4L1097.1 537.8L1097.7 538.4L1098.3 538.2L1098.9 539.1L1099.5 539.4L1100.1 539.6L1100.7 539.4L1101.3 540.3L1101.9 539.8L1102.5 540.6L1103.1 539.1L1103.7 538.0L1104.3 535.7L1104.9 534.3L1105.5 534.4L1106.1 533.9L1106.7 534.2L1107.3 533.8L1107.9 534.1L1108.5 534.1L1109.1 534.3L1109.7 534.7L1110.3 534.1L1110.9 534.6L1111.5 536.4L1112.1 535.2L1112.7 536.5L1113.3 536.5L1113.9 535.6L1114.5 537.3L1115.1 537.5L1115.7 536.8L1116.3 536.7L1116.9 536.6L1117.5 535.2L1118.1 535.2L1118.7 534.4L1119.3 534.2L1119.9 535.0L1120.5 535.8L1121.1 536.6L1121.7 539.2L1122.3 540.8L1122.9 541.2L1123.5 540.0L1124.1 539.3L1124.7 539.1L1125.3 539.3L1125.9 539.3L1126.5 541.0L1127.1 540.9L1127.7 541.4L1128.3 541.8L1128.9 542.1L1129.5 542.0L1130.1 541.3L1130.7 543.0L1131.3 543.1L1131.9 542.4L1132.5 541.9L1133.1 541.5L1133.7 539.9L1134.3 540.5L1134.9 539.3L1135.5 538.7L1136.1 538.7L1136.7 539.3L1137.3 538.0L1137.9 539.3L1138.5 540.4L1139.1 540.3L1139.7 540.8L1140.3 541.6L1140.9 542.4L1141.5 542.3L1142.1 541.7L1142.7 541.5L1143.3 540.1L1143.9 540.0L1144.5 539.9L1145.1 540.4L1145.7 539.4L1146.3 539.5L1146.9 538.2L1147.5 538.0L1148.1 537.9L1148.7 538.3L1149.3 537.9L1149.9 537.5L1150.5 536.5L1151.1 537.3L1151.7 537.5L1152.3 537.9L1152.9 537.6L1153.5 539.7L1154.1 539.2L1154.7 541.3L1155.3 541.9L1155.9 539.8L1156.5 540.3L1157.1 540.6L1157.7 540.5L1158.3 539.8L1158.9 539.9L1159.5 540.4L1160.1 542.2L1160.7 541.4L1161.3 542.6L1161.9 542.1L1162.5 542.7L1163.1 543.4L1163.7 541.8L1164.3 543.0L1164.9 542.4L1165.5 543.0L1166.1 542.6L1166.7 541.6L1167.3 542.6L1167.9 541.7L1168.5 540.7L1169.1 540.4L1169.7 541.1L1170.3 540.9L1170.9 540.6L1171.5 540.2L1172.1 540.4L1172.7 540.3L1173.3 541.3L1173.9 540.0L1174.5 541.6L1175.1 541.9L1175.7 540.8L1176.3 542.5L1176.9 542.4L1177.5 543.1L1178.1 542.3L1178.7 542.7L1179.3 543.0L1179.9 543.9L1180.5 542.9L1181.1 542.1L1181.7 542.0L1182.3 541.4L1182.9 540.5L1183.5 540.0L1184.1 540.7L1184.7 539.1L1185.3 541.1L1185.9 540.6L1186.5 541.4L1187.1 542.3L1187.7 542.2L1188.3 543.0L1188.9 544.5L1189.5 544.2L1190.1 543.6L1190.7 542.9L1191.3 543.0L1191.9 542.7L1192.5 541.8L1193.1 542.2L1193.7 541.0L1194.3 542.3L1194.9 541.9L1195.5 542.5L1196.1 542.4L1196.7 541.8L1197.3 541.4L1197.9 543.0L1198.5 541.5L1199.1 542.1L1199.7 541.9L1200.3 542.1L1200.9 543.2L1201.5 543.9L1202.1 542.9L1202.7 543.9L1203.3 543.5L1203.9 544.1L1204.5 543.9L1205.1 543.6L1205.7 543.6L1206.3 543.8L1206.9 544.7L1207.5 543.7L1208.1 542.9L1208.7 543.8L1209.3 543.7L1209.9 542.5L1210.5 541.7L1211.1 541.6L1211.7 541.2L1212.3 541.5L1212.9 541.1L1213.5 541.8L1214.1 542.3L1214.7 543.3L1215.3 544.4L1215.9 544.6L1216.5 544.4L1217.1 544.7L1217.7 544.8L1218.3 544.4L1218.9 544.2L1219.5 543.6L1220.1 543.9L1220.7 545.1L1221.3 543.5L1221.9 544.2L1222.5 544.5L1223.1 545.0L1223.7 543.9L1224.3 544.1L1224.9 544.2L1225.5 544.6L1226.1 544.8L1226.7 545.8L1227.3 545.8L1227.9 545.8L1228.5 544.1L1229.1 543.9L1229.7 544.9L1230.3 545.0L1230.9 544.1L1231.5 544.1L1232.1 542.9L1232.7 543.7L1233.3 544.8L1233.9 544.7L1234.5 544.9L1235.1 545.2L1235.7 544.0L1236.3 543.9L1236.9 544.1L1237.5 545.0L1238.1 545.4L1238.7 546.0L1239.3 545.8L1239.9 545.7L1240.5 545.9L1241.1 545.3L1241.7 545.5L1242.3 544.6L1242.9 545.9L1243.5 544.9L1244.1 546.2L1244.7 545.7L1245.3 545.1L1245.9 544.8L1246.5 545.0L1247.1 545.7L1247.7 545.9L1248.3 544.8L1248.9 544.8L1249.5 545.6L1250.1 545.8L1250.7 545.4L1251.3 545.0L1251.9 545.7L1252.5 544.6L1253.1 545.0L1253.7 545.3L1254.3 546.1L1254.9 545.5L1255.5 545.9L1256.1 545.1L1256.7 544.6L1257.3 544.6L1257.9 545.8L1258.5 545.3L1259.1 544.6L1259.7 544.0L1260.3 544.9L1260.9 545.3L1261.5 544.9L1262.1 544.7L1262.7 545.5L1263.3 546.0L1263.9 544.8L1264.5 544.5L1265.1 545.1L1265.7 545.3L1266.3 545.8L1266.9 545.0L1267.5 546.2L1268.1 546.1L1268.7 545.8L1269.3 545.3L1269.9 546.7L1270.5 545.6L1271.1 546.6L1271.7 545.6L1272.3 545.6L1272.9 546.7L1273.5 545.9L1274.1 547.1L1274.7 546.4L1275.3 545.9L1275.9 546.0L1276.5 546.4L1277.1 546.9L1277.7 547.4L1278.3 545.9L1278.9 546.3L1279.5 546.0L1280.1 547.3L1280.7 545.8L1281.3 545.6L1281.9 545.6L1282.5 546.2L1283.1 547.1L1283.7 547.0L1284.3 546.7L1284.9 547.2L1285.5 547.0L1286.1 545.9L1286.7 545.6L1287.3 547.0L1287.9 546.6L1288.5 545.3L1289.1 546.5L1289.7 546.0L1290.3 546.1L1290.9 546.0L1291.5 545.8L1292.1 545.5L1292.7 546.1L1293.3 546.2L1293.9 547.4L1294.5 545.9L1295.1 547.5L1295.7 546.1L1296.3 546.5L1296.9 547.3L1297.5 547.4L1298.1 546.7L1298.7 546.1L1299.3 546.9L1299.9 546.7L1300.5 547.8L1301.1 546.5L1301.7 546.9L1302.3 547.9L1302.9 546.3L1303.5 547.1L1304.1 547.8L1304.7 547.7L1305.3 546.4L1305.9 546.4L1306.5 546.4L1307.1 548.0L1307.7 546.7L1308.3 547.6L1308.9 547.9L1309.5 546.9L1310.1 546.7L1310.7 547.9L1311.3 547.3L1311.9 546.7L1312.5 547.5L1313.1 546.7L1313.7 546.6L1314.3 546.1L1314.9 547.5L1315.5 547.7L1316.1 547.2L1316.7 547.8L1317.3 546.1L1317.9 546.5L1318.5 546.9L1319.1 547.7L1319.7 547.7L1320.3 546.7L1320.9 546.4L1321.5 546.7L1322.1 546.8L1322.7 547.6L1323.3 546.3L1323.9 547.4L1324.5 547.3L1325.1 547.5L1325.7 547.4L1326.3 547.2L1326.9 546.7L1327.5 546.7L1328.1 546.8L1328.7 547.6L1329.3 546.3L1329.9 546.6L1330.5 547.6L1331.1 546.7L1331.7 546.4L1332.3 546.4L1332.9 547.3L1333.5 546.9L1334.1 548.2L1334.7 548.0L1335.3 548.2L1335.9 546.9L1336.5 546.6L1337.1 546.7L1337.7 547.4L1338.3 547.8L1338.9 547.4L1339.5 547.0L1340.1 547.4L1340.7 547.8L1341.3 547.9L1341.9 548.0L1342.5 548.2L1343.1 547.9L1343.7 547.0L1344.3 548.3L1344.9 547.3L1345.5 547.9L1346.1 547.5L1346.7 548.2L1347.3 547.2L1347.9 547.3L1348.5 547.3L1349.1 547.1L1349.7 548.4L1350.3 547.9L1350.9 547.4L1351.5 547.5L1352.1 548.6L1352.7 547.7L1353.3 547.2L1353.9 548.3L1354.5 548.0L1355.1 548.6L1355.7 547.0L1356.3 547.7L1356.9 548.3L1357.5 548.3L1358.1 548.5L1358.7 546.9L1359.3 547.4L1359.9 547.0L1360.5 547.2L1361.1 548.6L1361.7 547.9L1362.3 548.5L1362.9 547.5L1363.5 548.4L1364.1 547.6L1364.7 547.3L1365.3 548.2L1365.9 548.5L1366.5 547.0L1367.1 547.9L1367.7 547.9L1368.3 547.2L1368.9 547.5L1369.5 547.1L1370.1 547.3L1370.7 547.4L1371.3 548.0L1371.9 548.1L1372.5 547.4L1373.1 547.0L1373.7 547.6L1374.3 548.3L1374.9 547.4L1375.5 547.7L1376.1 547.5L1376.7 548.6L1377.3 548.2L1377.9 547.3L1378.5 547.4L1379.1 548.0L1379.7 548.3L1380.3 548.4L1380.9 547.5L1381.5 547.6L1382.1 548.6L1382.7 548.1L1383.3 547.9L1383.9 548.0L1384.5 549.2L1385.1 548.0L1385.7 548.5L1386.3 548.2L1386.9 548.2L1387.5 549.0L1388.1 549.2L1388.7 548.1L1389.3 547.7L1389.9 548.7L1390.5 547.7L1391.1 547.3L1391.7 548.9L1392.3 548.0L1392.9 548.7L1393.5 547.9L1394.1 548.8L1394.7 548.0L1395.3 547.4L1395.9 547.1L1396.5 548.1L1397.1 548.2L1397.7 548.7L1398.3 547.2L1398.9 548.1L1399.5 547.6L1400.1 547.8L1400.7 547.2L1401.3 547.4L1401.9 547.8L1402.5 548.5L1403.1 547.1L1403.7 547.8L1404.3 548.3L1404.9 548.7L1405.5 547.3L1406.1 547.2L1406.7 548.7L1407.3 548.7L1407.9 547.9L1408.5 547.1L1409.1 548.7L1409.7 547.8L1410.3 548.7L1410.9 548.2L1411.5 548.6L1412.1 547.4L1412.7 548.6L1413.3 547.6L1413.9 547.9L1414.5 548.7L1415.1 548.7L1415.7 547.6L1416.3 547.6L1416.9 548.0L1417.5 548.2L1418.1 548.0L1418.7 547.5L1419.3 547.8L1419.9 548.7L1420.5 549.0L1421.1 547.5L1421.7 548.4L1422.3 548.8L1422.9 547.5L1423.5 549.0L1424.1 547.7L1424.7 548.6L1425.3 548.5L1425.9 548.6L1426.5 548.0L1427.1 548.2L1427.7 548.5L1428.3 548.2L1428.9 548.6L1429.5 548.2L1430.1 548.2L1430.7 547.4L1431.3 548.5L1431.9 548.3L1432.5 547.8L1433.1 548.7L1433.7 548.7L1434.3 548.2L1434.9 547.6L1435.5 548.2L1436.1 547.5L1436.7 547.5L1437.3 548.0L1437.9 547.4L1438.5 548.0L1439.1 548.2L1439.7 547.3L1440.3 548.4L1440.9 547.3L1441.5 548.5L1442.1 548.6L1442.7 548.1L1443.3 547.2L1443.9 548.0L1444.5 547.8L1445.1 548.8L1445.7 547.3L1446.3 548.6L1446.9 548.9L1447.5 548.4L1448.1 548.5L1448.7 547.4L1449.3 548.9L1449.9 548.0L1450.5 548.8L1451.1 548.8L1451.7 547.4L1452.3 548.6L1452.9 548.8L1453.5 547.3L1454.1 547.8L1454.7 548.6L1455.3 547.5L1455.9 548.9L1456.5 547.7L1457.1 548.7L1457.7 547.5L1458.3 548.2L1458.9 549.0L1459.5 547.7L1460.1 547.8L1460.7 548.3L1461.3 547.9L1461.9 547.4L1462.5 547.7L1463.1 547.7L1463.7 549.1L1464.3 548.6L1464.9 549.1L1465.5 547.8L1466.1 548.9L1466.7 547.7L1467.3 548.4L1467.9 548.7"/>
<text class="lb" x="1296.8" y="101.9" textLength="77.5">β-CD-Zn</text>
<text class="lb" x="1289.8" y="230.2" textLength="74.8">β-CD-Ni</text>
<text class="lb" x="1291" y="371.2" textLength="77.5">β-CD-Ca</text>
<text class="lb" x="1299.6" y="517.6" textLength="45">β-CD</text>
</g></svg></body></html>
